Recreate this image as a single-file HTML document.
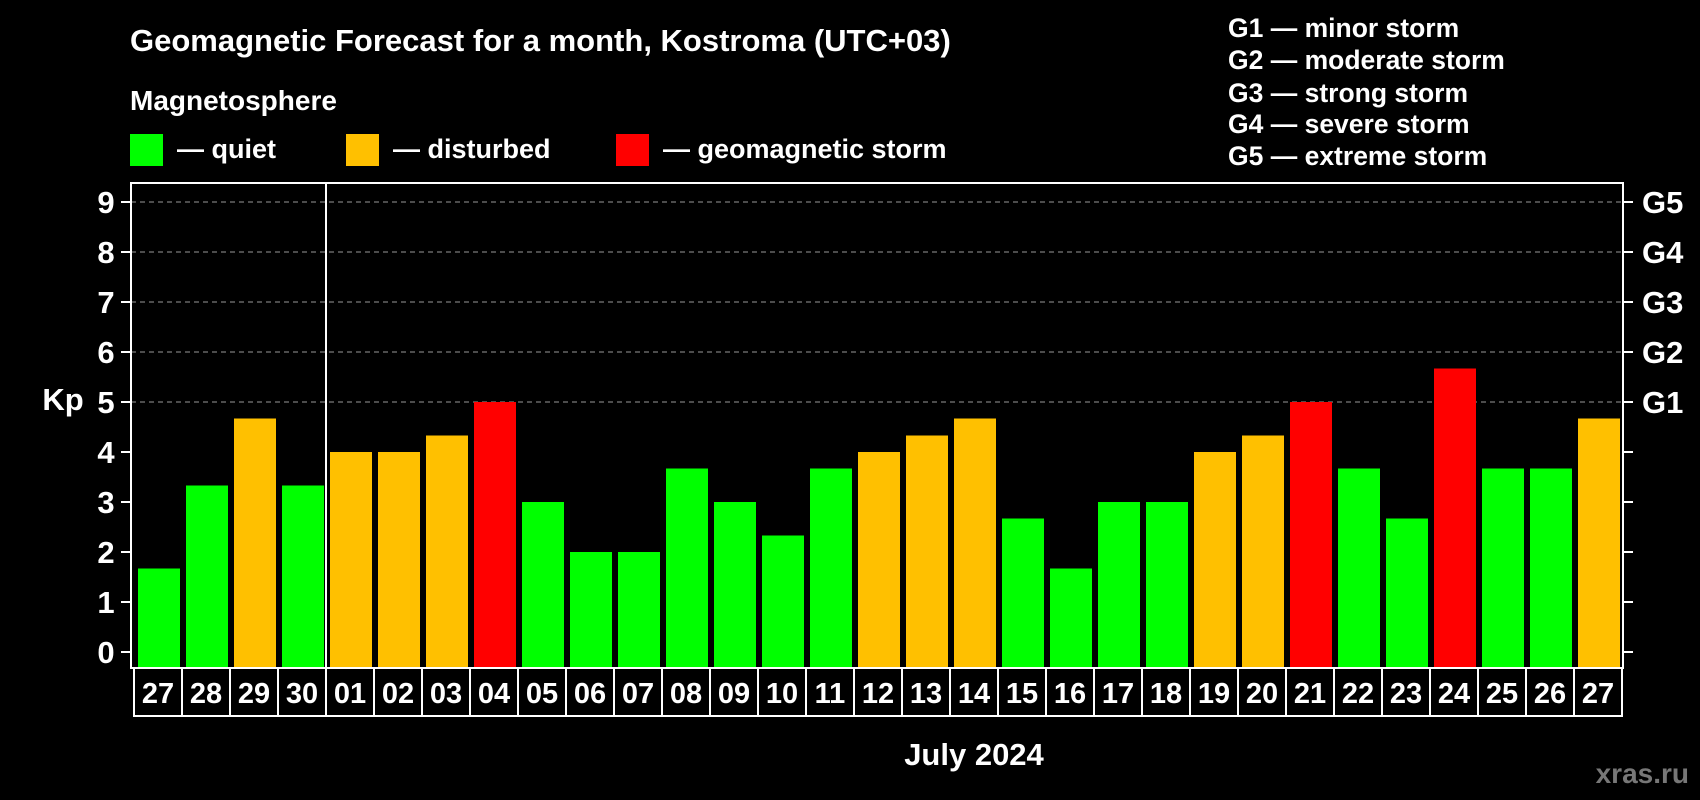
<!DOCTYPE html>
<html><head><meta charset="utf-8"><style>
body{margin:0;background:#000;}
svg{display:block;font-family:"Liberation Sans",Arial,sans-serif;font-weight:bold;}
</style></head><body>
<svg id="c" width="1700" height="800" viewBox="0 0 1700 800">
<rect width="1700" height="800" fill="#000"/>
<text x="130" y="51" fill="#fff" font-size="31">Geomagnetic Forecast for a month, Kostroma (UTC+03)</text>
<text x="130" y="110" fill="#fff" font-size="28">Magnetosphere</text>
<g><rect x="130" y="134" width="33" height="32" fill="#00ff00"/><text x="177" y="158" fill="#fff" font-size="27">— quiet</text></g>
<g><rect x="346" y="134" width="33" height="32" fill="#ffc000"/><text x="393" y="158" fill="#fff" font-size="27">— disturbed</text></g>
<g><rect x="616" y="134" width="33" height="32" fill="#ff0000"/><text x="663" y="158" fill="#fff" font-size="27">— geomagnetic storm</text></g>
<g fill="#fff" font-size="26.5">
<text x="1228" y="37">G1 — minor storm</text>
<text x="1228" y="69">G2 — moderate storm</text>
<text x="1228" y="102">G3 — strong storm</text>
<text x="1228" y="133">G4 — severe storm</text>
<text x="1228" y="165">G5 — extreme storm</text>
</g>
<text x="63" y="410" fill="#fff" font-size="31" text-anchor="middle">Kp</text>
<text x="974" y="765" fill="#fff" font-size="31" text-anchor="middle">July 2024</text>
<text x="1689" y="783" fill="#777" font-size="28" text-anchor="end">xras.ru</text>
<g id="plot"></g>
</svg>
<script>
const days=["27","28","29","30","01","02","03","04","05","06","07","08","09","10","11","12","13","14","15","16","17","18","19","20","21","22","23","24","25","26","27"];
const kp=[1.67,3.33,4.67,3.33,4,4,4.33,5,3,2,2,3.67,3,2.33,3.67,4,4.33,4.67,2.67,1.67,3,3,4,4.33,5,3.67,2.67,5.67,3.67,3.67,4.67];
const yTicks=[0,1,2,3,4,5,6,7,8,9];
const gLabels=["G1","G2","G3","G4","G5"];
const gLevels=[5,6,7,8,9];
const NS="http://www.w3.org/2000/svg";
const g=document.getElementById("plot");
const L=131,R=1623,T=183,B=668,X0=134,STEP=48;
const y=v=>652-v*50;
const x=i=>X0+i*STEP;
function mk(t,a){const e=document.createElementNS(NS,t);for(const k in a)e.setAttribute(k,a[k]);g.appendChild(e);return e;}
function color(v){return v>=5?"#ff0000":v>=4?"#ffc000":"#00ff00";}
yTicks.forEach(v=>{
 if(v>=5){const l=mk("line",{x1:L,x2:R,y1:y(v),y2:y(v),stroke:"#999","stroke-width":1,"stroke-dasharray":"5,4"});
 
 }
 const t1=mk("line",{x1:L-10,x2:L,y1:y(v),y2:y(v),stroke:"#fff","stroke-width":2});
 
 
 const t2=mk("line",{x1:R,x2:R+10,y1:y(v),y2:y(v),stroke:"#fff","stroke-width":2});
 
 
 const tx=mk("text",{x:106,y:y(v)+11,fill:"#fff","font-size":31,"text-anchor":"middle"});tx.textContent=v;
 
 
});
gLabels.forEach((s,i)=>{
 const tx=mk("text",{x:1642,y:y(gLevels[i])+11,fill:"#fff","font-size":31});tx.textContent=s;
 
 
});
kp.forEach((v,i)=>{
 const b=mk("rect",{x:x(i)+4,y:y(v),width:42,height:B-y(v),fill:color(v)});
 
 
 const c=mk("rect",{x:x(i),y:B,width:STEP,height:48,fill:"none",stroke:"#fff","stroke-width":2});
 
 
 const t=mk("text",{x:x(i)+STEP/2,y:B+35,fill:"#fff","font-size":29,"text-anchor":"middle"});t.textContent=days[i];
 
 
});
const f=mk("rect",{x:L,y:T,width:R-L,height:B-T,fill:"none",stroke:"#fff","stroke-width":2});


const d=mk("line",{x1:x(4),x2:x(4),y1:T,y2:B,stroke:"#fff","stroke-width":2});


</script>
</body></html>
